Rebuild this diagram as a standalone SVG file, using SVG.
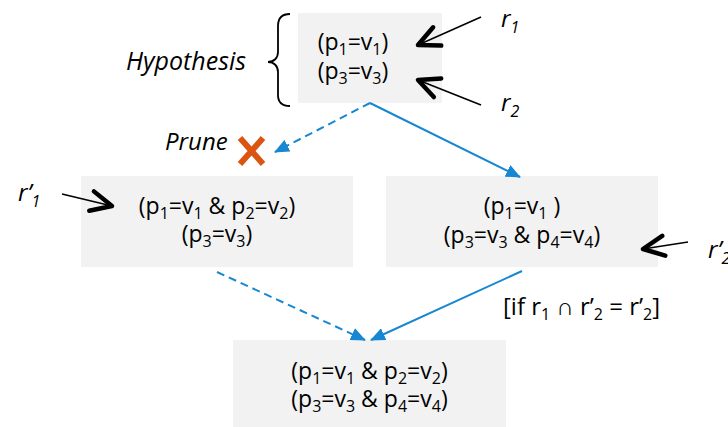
<svg xmlns="http://www.w3.org/2000/svg" width="728" height="427" viewBox="0 0 728 427">
<style>
.box{fill:#f2f2f2}
.t{font-family:"Open Sans","Liberation Sans",sans-serif;font-size:23px;fill:#000}
.c{text-anchor:middle}
.it{font-family:"Open Sans","Liberation Sans",sans-serif;font-style:italic;font-size:24px;fill:#000}
.sb{font-size:16px}
.bl{stroke:#1787d1;stroke-width:2;fill:none}
.dash{stroke-dasharray:8 5}
.kl{stroke:#000;stroke-width:1.6;fill:none}
</style>
<defs>
<marker id="ba" viewBox="0 0 15 13" refX="14" refY="6.5" markerWidth="15" markerHeight="13" markerUnits="userSpaceOnUse" orient="auto">
<path d="M0,0 L15,6.5 L0,13 z" fill="#1787d1"/>
</marker>
<marker id="ka" viewBox="-26 -14 30 28" refX="0" refY="0" markerWidth="30" markerHeight="28" markerUnits="userSpaceOnUse" orient="auto">
<path d="M-21,-10 L0,0 L-21,10" fill="none" stroke="#000" stroke-width="4.5" stroke-linecap="round" stroke-linejoin="round"/>
</marker>
</defs>

<g id="hyp">
<rect class="box" x="298" y="13" width="144" height="90"/>
<text class="t c" x="353" y="50">(p<tspan class="sb" dy="5">1</tspan><tspan dy="-5">=v</tspan><tspan class="sb" dy="5">1</tspan><tspan dy="-5">)</tspan></text>
<text class="t c" x="353" y="79">(p<tspan class="sb" dy="5">3</tspan><tspan dy="-5">=v</tspan><tspan class="sb" dy="5">3</tspan><tspan dy="-5">)</tspan></text>
</g>

<g id="hyp-label">
<path d="M290,14 C282,14 278,18 278,26 L278,52 C278,58 274,62 268,62 C274,62 278,66 278,72 L278,95 C278,103 282,106 290,106" fill="none" stroke="#000" stroke-width="1.8"/>
<text class="it" x="126" y="70" style="font-size:25px">Hypothesis</text>
</g>

<g id="prune">
<text class="it" x="165" y="150">Prune</text>
<path d="M240,138 L263,164 M263,138 L240,164" stroke="#da5412" stroke-width="6" fill="none"/>
</g>

<g id="left">
<rect class="box" x="81" y="176" width="272" height="91"/>
<text class="t c" x="217" y="214">(p<tspan class="sb" dy="5">1</tspan><tspan dy="-5">=v</tspan><tspan class="sb" dy="5">1</tspan><tspan dy="-5"> &amp; p</tspan><tspan class="sb" dy="5">2</tspan><tspan dy="-5">=v</tspan><tspan class="sb" dy="5">2</tspan><tspan dy="-5">)</tspan></text>
<text class="t c" x="217" y="242">(p<tspan class="sb" dy="5">3</tspan><tspan dy="-5">=v</tspan><tspan class="sb" dy="5">3</tspan><tspan dy="-5">)</tspan></text>
</g>

<g id="right">
<rect class="box" x="386" y="176" width="272" height="91"/>
<text class="t c" x="522" y="214">(p<tspan class="sb" dy="5">1</tspan><tspan dy="-5">=v</tspan><tspan class="sb" dy="5">1</tspan><tspan dy="-5"> )</tspan></text>
<text class="t c" x="522" y="243">(p<tspan class="sb" dy="5">3</tspan><tspan dy="-5">=v</tspan><tspan class="sb" dy="5">3</tspan><tspan dy="-5"> &amp; p</tspan><tspan class="sb" dy="5">4</tspan><tspan dy="-5">=v</tspan><tspan class="sb" dy="5">4</tspan><tspan dy="-5">)</tspan></text>
</g>

<g id="bottom">
<rect class="box" x="233" y="340" width="273" height="87"/>
<text class="t c" x="369.5" y="379">(p<tspan class="sb" dy="5">1</tspan><tspan dy="-5">=v</tspan><tspan class="sb" dy="5">1</tspan><tspan dy="-5"> &amp; p</tspan><tspan class="sb" dy="5">2</tspan><tspan dy="-5">=v</tspan><tspan class="sb" dy="5">2</tspan><tspan dy="-5">)</tspan></text>
<text class="t c" x="369.5" y="407">(p<tspan class="sb" dy="5">3</tspan><tspan dy="-5">=v</tspan><tspan class="sb" dy="5">3</tspan><tspan dy="-5"> &amp; p</tspan><tspan class="sb" dy="5">4</tspan><tspan dy="-5">=v</tspan><tspan class="sb" dy="5">4</tspan><tspan dy="-5">)</tspan></text>
</g>

<g id="r1"><text class="it" x="501" y="27">r<tspan class="sb" dy="6">1</tspan></text></g>
<g id="r2"><text class="it" x="501" y="111">r<tspan class="sb" dy="6">2</tspan></text></g>
<g id="rp1"><text class="it" x="18" y="201">r’<tspan class="sb" dy="6">1</tspan></text></g>
<g id="rp2"><text class="it" x="708" y="258">r’<tspan class="sb" dy="6">2</tspan></text></g>

<g id="connectors">
<path class="kl" d="M481,17 L418,45" marker-end="url(#ka)"/>
<path class="kl" d="M481,105 L418,80" marker-end="url(#ka)"/>
<path class="kl" d="M62,194 L112,206" marker-end="url(#ka)"/>
<path class="kl" d="M688,242 L643,249" marker-end="url(#ka)"/>
<path class="bl dash" d="M370,103 L275,152" marker-end="url(#ba)"/>
<path class="bl" d="M370,103 L520,177" marker-end="url(#ba)"/>
<path class="bl dash" d="M217,272 L365,340" marker-end="url(#ba)"/>
<path class="bl" d="M522,271 L371,340" marker-end="url(#ba)"/>
<text class="t" x="503" y="315" style="font-size:24px">[if r<tspan class="sb" dy="5">1</tspan><tspan dy="-5"> ∩ r’</tspan><tspan class="sb" dy="5">2</tspan><tspan dy="-5"> = r’</tspan><tspan class="sb" dy="5">2</tspan><tspan dy="-5">]</tspan></text>
</g>
</svg>
